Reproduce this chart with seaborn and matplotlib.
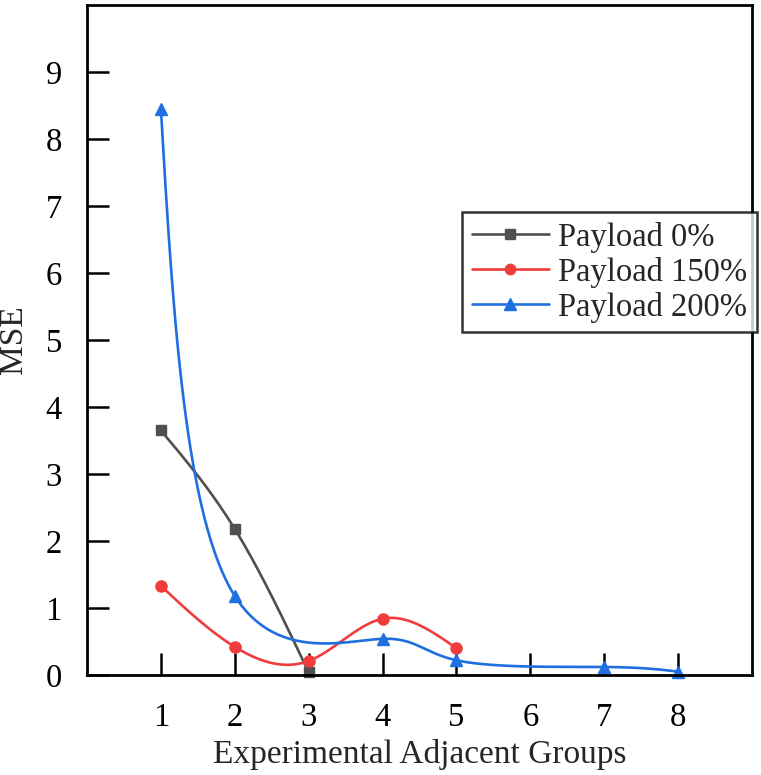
import matplotlib

matplotlib.use("Agg")
import matplotlib.pyplot as plt
import numpy as np
import seaborn as sns
from matplotlib.lines import Line2D

# values
x_p0 = [1, 2, 3]
mse_p0 = [3.65, 2.18, 0.04]

x_p150 = [1, 2, 3, 4, 5]
mse_p150 = [1.33, 0.42, 0.21, 0.84, 0.40]

x_p200 = [1, 2, 4, 5, 7, 8]
mse_p200 = [8.45, 1.18, 0.54, 0.22, 0.12, 0.05]

labels = ["Payload 0%", "Payload 150%", "Payload 200%"]
colors = ["#505050", "#f03c3c", "#1f6fe0"]
markers = ["s", "o", "^"]
msizes = [7, 8, 8.5]

sns.set_theme(style="white")
plt.rcParams["font.family"] = ["Liberation Serif", "DejaVu Serif"]

FS = 23.5
# rough screen scale (px per data unit), so the spline bends the way the original does
SX, SY = 74.0, 67.0
ALPHA = 0.15


def natural_coeffs(t, v):
    k = len(t)
    h = np.diff(t)
    A = np.zeros((k, k))
    b = np.zeros(k)
    A[0, 0] = A[-1, -1] = 1
    for i in range(1, k - 1):
        A[i, i - 1] = h[i - 1]
        A[i, i] = 2 * (h[i - 1] + h[i])
        A[i, i + 1] = h[i]
        b[i] = 3 * ((v[i + 1] - v[i]) / h[i] - (v[i] - v[i - 1]) / h[i - 1])
    return np.linalg.solve(A, b)


def eval_spline(t, v, c, ts):
    h = np.diff(t)
    idx = np.clip(np.searchsorted(t, ts, side="right") - 1, 0, len(t) - 2)
    dt = ts - t[idx]
    bb = (v[idx + 1] - v[idx]) / h[idx] - h[idx] * (2 * c[idx] + c[idx + 1]) / 3
    dd = (c[idx + 1] - c[idx]) / (3 * h[idx])
    return v[idx] + bb * dt + c[idx] * dt ** 2 + dd * dt ** 3


def parametric_spline(x, y, alpha=ALPHA, n=400):
    """Parametric natural cubic spline used as the smooth connector between markers."""
    px = np.asarray(x, float) * SX
    py = np.asarray(y, float) * SY
    seg = np.hypot(np.diff(px), np.diff(py)) ** alpha
    t = np.concatenate([[0], np.cumsum(seg)])
    ts = np.linspace(0, t[-1], n)
    sx = eval_spline(t, px, natural_coeffs(t, px), ts) / SX
    sy = eval_spline(t, py, natural_coeffs(t, py), ts) / SY
    return sx, sy


fig = plt.figure(figsize=(7.61, 7.75), dpi=100)
ax = fig.add_axes([87 / 761, 100 / 775, 665 / 761, 670 / 775])

for xs_, ys_, col, mk, ms in zip([x_p0, x_p150, x_p200], [mse_p0, mse_p150, mse_p200],
                                 colors, markers, msizes):
    sx, sy = parametric_spline(xs_, ys_)
    sns.lineplot(x=sx, y=sy, ax=ax, color=col, lw=1.9, sort=False, estimator=None)
    ax.plot(xs_, ys_, ls="none", marker=mk, ms=ms, color=col, clip_on=False, zorder=3)

ax.set_xlim(0, 9)
ax.set_ylim(0, 10)
ax.set_xticks(range(1, 9))
ax.set_yticks(range(0, 10))
ax.tick_params(axis="both", direction="in", length=16, width=1.8, labelsize=FS,
               color="black", labelcolor="black", bottom=True, left=True)
ax.tick_params(axis="x", pad=20)
ax.tick_params(axis="y", pad=18)
for s in ax.spines.values():
    s.set_color("black")
    s.set_linewidth(2.0)
    s.set_zorder(4)

ax.set_xlabel("Experimental Adjacent Groups", fontsize=24, labelpad=4)
ax.set_ylabel("MSE", fontsize=24, labelpad=12)

handles = [Line2D([], [], color=c, marker=m, ms=ms - 0.5, lw=1.9)
           for c, m, ms in zip(colors, markers, msizes)]
leg = ax.legend(handles, labels, loc="upper right", bbox_to_anchor=(1.008, 0.691),
                fontsize=FS, frameon=True, fancybox=False, edgecolor="black",
                handlelength=2.35, handletextpad=0.3, borderpad=0.3, labelspacing=0.12,
                borderaxespad=0)
leg.get_frame().set_linewidth(1.8)

fig.savefig("out.png", dpi=100)
